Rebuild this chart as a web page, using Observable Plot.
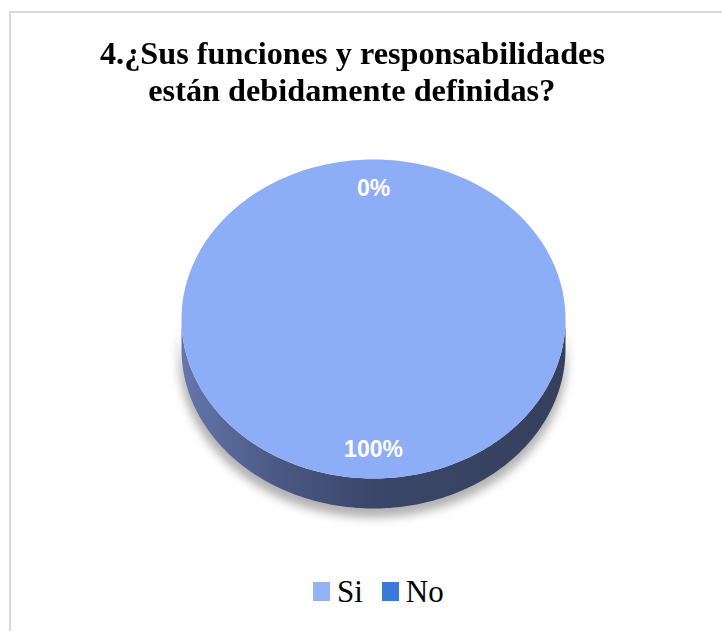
<!DOCTYPE html>
<html>
<head>
<meta charset="utf-8">
<script src="https://cdn.jsdelivr.net/npm/d3@7"></script>
<script src="https://cdn.jsdelivr.net/npm/@observablehq/plot@0.6"></script>
<style>
  html, body { margin: 0; padding: 0; background: #fff; overflow: hidden; }
  #page { position: relative; width: 722px; height: 631px; overflow: hidden; background: #fff; }
  #frame { position: absolute; left: 9px; top: 11px; width: 800px; height: 700px;
           border-top: 2px solid #d9d9d9; border-left: 2px solid #d9d9d9; }
  #title { position: absolute; left: 0; top: 35px; width: 704px; text-align: center;
           font-family: "Liberation Serif", "Times New Roman", serif; font-weight: bold;
           font-size: 32px; line-height: 37px; color: #000; }
  #title span { display: inline-block; white-space: nowrap; transform-origin: center; }
  #chart { position: absolute; left: 0; top: 140px; }
  #legend { position: absolute; left: 313px; top: 576px; display: flex; align-items: center;
            font-family: "Liberation Serif", "Times New Roman", serif; font-size: 31px;
            line-height: 31px; color: #000; }
  .sw { width: 17px; height: 19px; margin-right: 7px; }
  .item { display: flex; align-items: center; margin-right: 19px; }
</style>
</head>
<body>
<div id="page">
  <div id="frame"></div>
  <div id="title"></div>
  <div id="chart"></div>
  <div id="legend"></div>
</div>
<script>
// ---- data ----
const categories = ["Si", "No"];
const values = [100, 0];
const valueLabels = ["100%", "0%"];
const titleLines = ["4.¿Sus funciones y responsabilidades", "están debidamente definidas?"];

// ---- styles ----
const sliceColors = ["#8eadf7", "#3a78d9"];
const legendColors = ["#93b2f8", "#3a78d9"];
const wallStops = [
  [["0%", "#6477ab"], ["25%", "#4a5884"], ["50%", "#3b4769"], ["100%", "#36405d"]],
  [["0%", "#2f5ea8"], ["50%", "#244a86"], ["100%", "#1f3f73"]]
];
const titleWidths = [505, 407];
const depth = 0.188;
const labelRadius = 0.82;

// ---- title ----
const titleDiv = d3.select("#title");
titleLines.forEach((t, i) => {
  const row = titleDiv.append("div");
  const span = row.append("span").text(t);
  const w = span.node().getBoundingClientRect().width;
  span.style("transform", `scaleX(${titleWidths[i] / w})`);
});

// ---- pie geometry from data ----
const data = categories.map((c, i) => ({category: c, value: values[i], label: valueLabels[i], i}));
const arcs = d3.pie().sort(null).value(d => d.value)(data);
const N = 180;

function facePoints(arc) {
  const pts = [{x: 0, y: 0}];
  for (let k = 0; k <= N; k++) {
    const a = arc.startAngle + (arc.endAngle - arc.startAngle) * k / N;
    pts.push({x: Math.sin(a), y: Math.cos(a)});
  }
  return pts;
}
function wallPoints(arc) {
  const lo = Math.max(arc.startAngle, Math.PI / 2);
  const hi = Math.min(arc.endAngle, 3 * Math.PI / 2);
  if (!(hi > lo)) return [];
  const top = [], bot = [];
  for (let k = 0; k <= N; k++) {
    const a = lo + (hi - lo) * k / N;
    top.push({x: Math.sin(a), y: Math.cos(a)});
    bot.push({x: Math.sin(a), y: Math.cos(a) - depth});
  }
  return top.concat(bot.reverse());
}
const shadow = d3.range(N + 1).map(k => {
  const a = Math.PI / 2 + Math.PI * k / N;
  return {x: Math.sin(a) * 1.01, y1: Math.cos(a) - 0.02, y2: Math.cos(a) - depth - 0.06};
});

const marks = [
  Plot.areaY(shadow, {x: "x", y1: "y1", y2: "y2", fill: "#000", fillOpacity: 0.3})
];
arcs.forEach((arc, i) => {
  const w = wallPoints(arc);
  if (w.length) marks.push(Plot.line(w, {x: "x", y: "y", fill: `url(#wall-${i})`, stroke: "none"}));
});
arcs.forEach((arc, i) => {
  marks.push(Plot.line(facePoints(arc), {x: "x", y: "y", fill: sliceColors[i], stroke: "none"}));
});
const labelData = arcs.map(arc => {
  const m = (arc.startAngle + arc.endAngle) / 2;
  return {x: labelRadius * Math.sin(m), y: labelRadius * Math.cos(m), label: arc.data.label};
});
marks.push(Plot.text(labelData, {
  x: "x", y: "y", text: "label", fill: "white", fontSize: 23, fontWeight: "bold",
  fontFamily: "Liberation Sans, Arial, sans-serif"
}));

const svg = Plot.plot({
  width: 722, height: 420, margin: 0,
  x: {domain: [-1, 1], range: [181, 565], axis: null},
  y: {domain: [-1, 1], range: [338, 19], axis: null},
  style: {background: "transparent", overflow: "visible"},
  marks
});

const defs = d3.select(svg).insert("defs", ":first-child");
wallStops.forEach((stops, i) => {
  const g = defs.append("linearGradient").attr("id", `wall-${i}`)
    .attr("x1", "0").attr("x2", "1").attr("y1", "0").attr("y2", "0");
  stops.forEach(([o, c]) => g.append("stop").attr("offset", o).attr("stop-color", c));
});
defs.append("filter").attr("id", "blur").attr("x", "-20%").attr("y", "-50%")
  .attr("width", "140%").attr("height", "200%")
  .append("feGaussianBlur").attr("stdDeviation", 5);
d3.select(svg).selectAll('g[aria-label="area"]').attr("filter", "url(#blur)");

document.getElementById("chart").appendChild(svg);

// ---- legend ----
const legend = d3.select("#legend");
categories.forEach((c, i) => {
  const item = legend.append("div").attr("class", "item");
  item.append("div").attr("class", "sw").style("background", legendColors[i]);
  item.append("span").text(c);
});
</script>
</body>
</html>
